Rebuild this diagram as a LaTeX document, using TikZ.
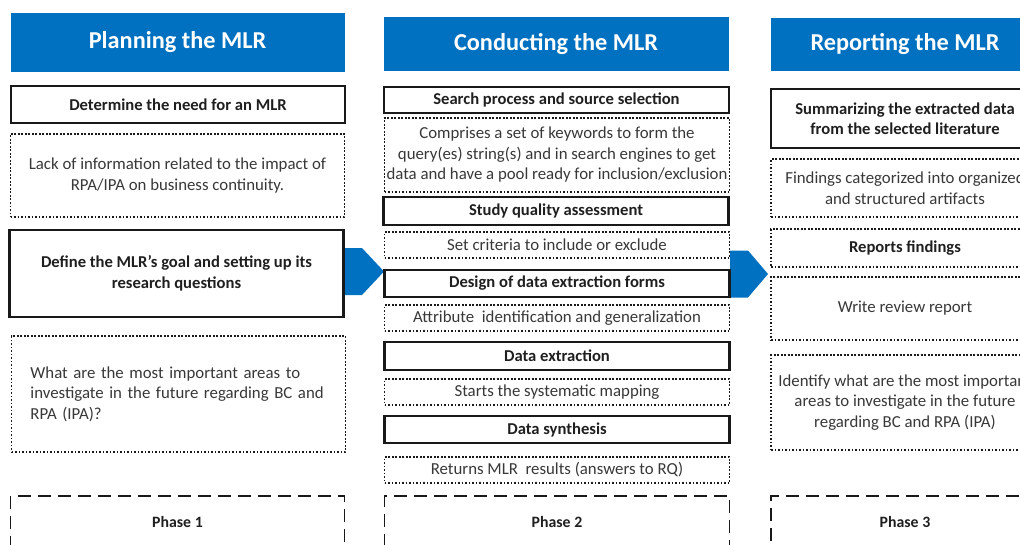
\documentclass[tikz,border=0pt]{standalone}
\usepackage{fontspec}
\setmainfont{Carlito}
\definecolor{mlrblue}{HTML}{0070C0}
\def\mlrchevron(#1,#2,#3){
  \fill[mlrblue] (#1,#2-23.5) -- (#1+18,#2-23.5) -- (#1+#3,#2) -- (#1+18,#2+23.5) -- (#1,#2+23.5) -- cycle;
}
\tikzset{
  colhead/.style={fill=mlrblue, text=white, inner sep=0pt, font=\fontsize{24.3}{28}\selectfont\bfseries},
  stepbox/.style={draw=black!90, line width=2.2pt, fill=white, inner sep=0pt, align=center, text=black!88, font=\fontsize{16.6}{20.5}\selectfont\bfseries},
  notebox/.style={draw=black!90, line width=1.8pt, dash pattern=on 1.8pt off 1.7pt, fill=white, inner sep=0pt, align=center, text=black!78, font=\fontsize{16.8}{20.5}\selectfont},
  phasebox/.style={draw=black!90, line width=1.7pt, dash pattern=on 13pt off 7pt, inner sep=0pt, text=black!88, font=\fontsize{15.8}{18}\selectfont\bfseries},
  leftcol/.style={minimum width=334},
  midcol/.style={minimum width=345},
  rightcol/.style={minimum width=268}
}
\begin{document}
\begin{tikzpicture}[x=1pt,y=-1pt]
\useasboundingbox (0,0) rectangle (1020,544);
\clip (0,0) rectangle (1020,544);
\mlrchevron(344,271.5,40)
\mlrchevron(730,274,38)

\node[colhead, leftcol, minimum height=59] (plan) at (177.5,42.5) {Planning the MLR};
\node[stepbox, leftcol, minimum height=37] (need) at (178,104.5) {Determine the need for an MLR};
\node[notebox, leftcol, minimum height=83] (lack) at (177.5,175.5) {Lack of information related to the impact of\\RPA/IPA on business continuity.};
\node[stepbox, leftcol, minimum height=87] (goal) at (176.5,273.5) {Define the MLR's goal and setting up its\\research questions};
\node[notebox, leftcol, minimum height=116, align=left, text width=296] (areas) at (178.5,394) {What are the most important areas to\\investigate in the future regarding BC and\\RPA (IPA)?};
\node[phasebox, leftcol, minimum height=52] (phase1) at (177.5,522) {Phase 1};

\node[colhead, midcol, minimum height=54] (cond) at (556,44) {Conducting the MLR};
\node[stepbox, midcol, minimum height=26] (search) at (556.5,100) {Search process and source selection};
\node[notebox, midcol, minimum height=74] (keywords) at (557,155) {Comprises a set of keywords to form the\\query(es) string(s) and in search engines to get\\data and have a pool ready for inclusion/exclusion};
\node[stepbox, midcol, minimum height=28] (quality) at (556,211) {Study quality assessment};
\node[notebox, midcol, minimum height=26] (criteria) at (557,245) {Set criteria to include or exclude};
\node[stepbox, midcol, minimum height=27] (design) at (557,283.5) {Design of data extraction forms};
\node[notebox, midcol, minimum height=26] (attrib) at (557,318) {Attribute\ \ identification and generalization};
\node[stepbox, midcol, minimum height=28] (extract) at (557,356) {Data extraction};
\node[notebox, midcol, minimum height=26] (mapping) at (557,392) {Starts the systematic mapping};
\node[stepbox, midcol, minimum height=27] (synth) at (557,429.5) {Data synthesis};
\node[notebox, midcol, minimum height=26] (results) at (557,470) {Returns MLR\ \ results (answers to RQ)};
\node[phasebox, midcol, minimum height=52] (phase2) at (557,522) {Phase 2};

\node[colhead, rightcol, minimum height=53] (report) at (905,44.5) {Reporting the MLR};
\node[stepbox, rightcol, minimum height=59] (summ) at (905,118.5) {Summarizing the extracted data\\from the selected literature};
\node[notebox, rightcol, minimum height=58] (findings) at (905,188) {Findings categorized into organized\\and structured artifacts};
\node[notebox, rightcol, minimum height=38, font=\fontsize{16.6}{20.5}\selectfont\bfseries, text=black!88] (reports) at (905,248) {Reports findings};
\node[notebox, rightcol, minimum height=63] (write) at (905,308.5) {Write review report};
\node[notebox, rightcol, minimum height=95] (identify) at (905,402.5) {Identify what are the most important\\areas to investigate in the future\\regarding BC and RPA (IPA)};
\node[phasebox, rightcol, minimum height=52] (phase3) at (905,522) {Phase 3};
\end{tikzpicture}
\end{document}
